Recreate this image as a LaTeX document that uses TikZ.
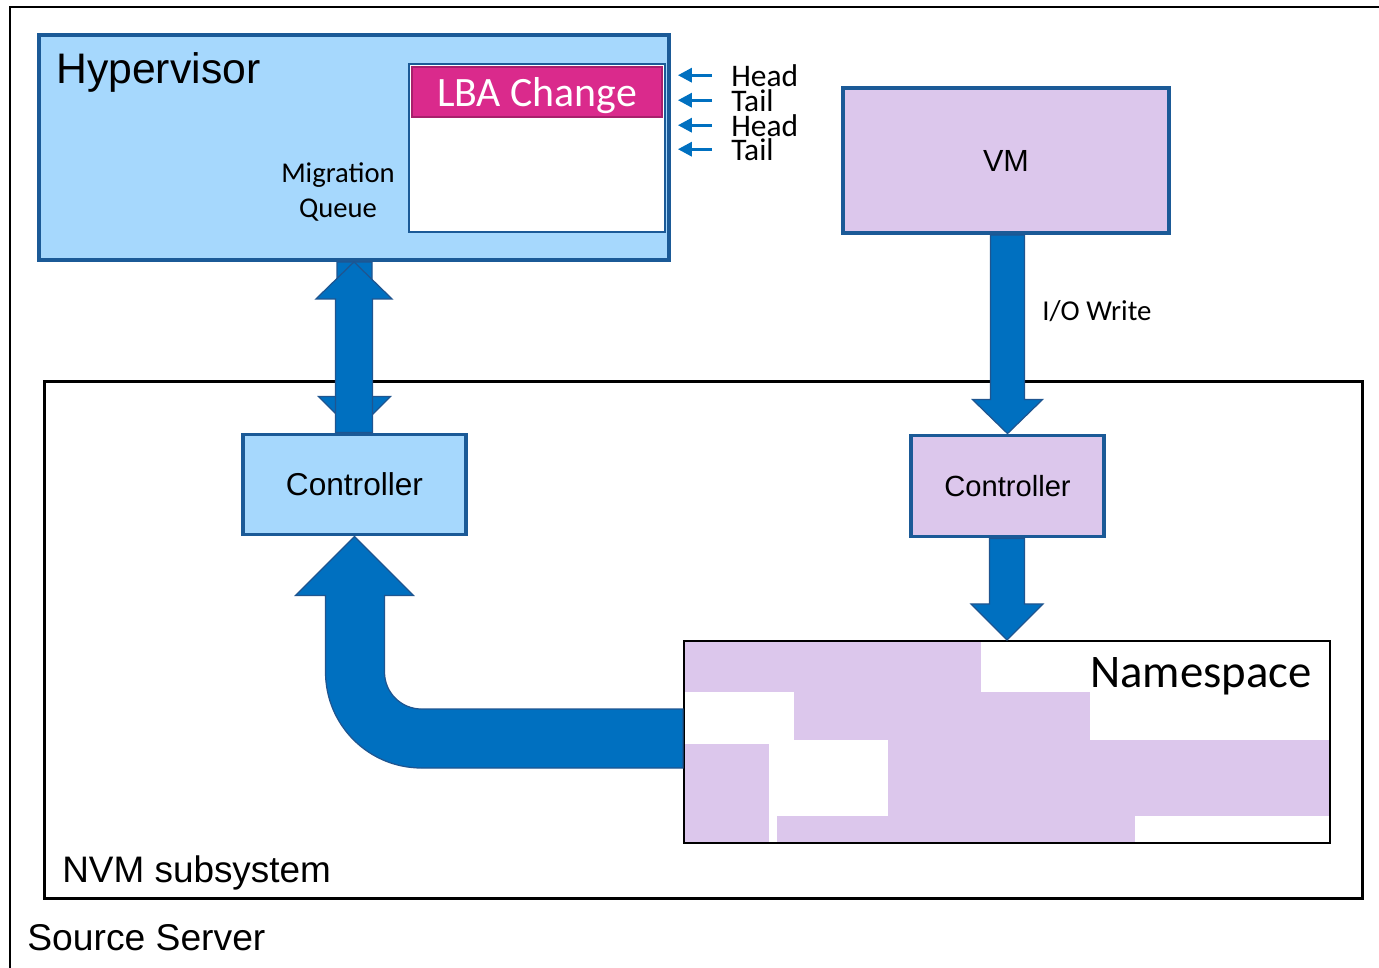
\documentclass[tikz,border=0pt]{standalone}
\usepackage{fontspec}
\setmainfont{Liberation Sans}
\newfontfamily\calibri{Carlito}
\usetikzlibrary{calc, arrows.meta}
\definecolor{HyperBlue}{HTML}{A6D8FD}
\definecolor{EdgeBlue}{HTML}{1B5A97}
\definecolor{VmLilac}{HTML}{DCC7EC}
\definecolor{QueuePink}{HTML}{DA2A8C}
\definecolor{QueueEdge}{HTML}{A8206C}
\definecolor{FlowBlue}{HTML}{0070C0}
\definecolor{FlowEdge}{HTML}{1F5590}

% vertical block arrow: from, tip, shaft half width, head half width, head length (signed)
\newcommand{\vflow}[5]{%
  \filldraw[flow] let \p1=(#1), \p2=(#2) in
    ({\x2-#3},\y1) -- ({\x2-#3},{\y2+#5}) -- ({\x2-#4},{\y2+#5}) -- (\x2,\y2)
    -- ({\x2+#4},{\y2+#5}) -- ({\x2+#3},{\y2+#5}) -- ({\x2+#3},\y1) -- cycle;}

\begin{document}
\begin{tikzpicture}[x=0.02cm, y=-0.02cm,
    box/.style={draw=EdgeBlue, line width=2.2pt, inner sep=0pt},
    frame/.style={draw=black, line width=1.4pt},
    flow/.style={fill=FlowBlue, draw=FlowEdge, line width=0.7pt},
    tinyflow/.style={draw=FlowBlue, line width=1.8pt, -{Triangle[length=8pt, width=8pt]}},
    lbl/.style={inner sep=0pt},
    tagfont/.style={font=\calibri\fontsize{17.9}{21}\selectfont}]
    \useasboundingbox (0,0) rectangle (1379,967);

    % Source server
    \draw[frame] (10,975) -- (10,7) -- (1385,7);
    \node[lbl, anchor=base west, font=\fontsize{21.2}{25}\selectfont] (srvtitle) at (27,950) {Source Server};

    % Hypervisor
    \node[box, fill=HyperBlue, minimum width=12.6cm, minimum height=4.5cm] (hyp) at (354,147.5) {};
    \node[lbl, anchor=base west, font=\fontsize{24.3}{28}\selectfont] (hyptitle) at (56,83) {Hypervisor};

    % Migration queue
    \node[draw=EdgeBlue, line width=1.4pt, fill=white, minimum width=5.12cm, minimum height=3.36cm, inner sep=0pt] (queue) at (537,148) {};
    \node[draw=QueueEdge, line width=1.2pt, fill=QueuePink, text=white, minimum width=5.0cm, minimum height=1.0cm, inner sep=0pt, text depth=0pt, anchor=north, font=\calibri\fontsize{23.8}{28}\selectfont] (lba) at ([yshift=-0.06cm]queue.north) {LBA Change};
    \node[lbl, align=center, font=\calibri\fontsize{16.3}{19.5}\selectfont] (mqtext) at (338,192) {Migration\\Queue};

    % Head / Tail pointers
    \node[lbl, anchor=base west, tagfont] (head1) at (731,86) {Head};
    \node[lbl, anchor=base west, tagfont] (tail1) at (731,111) {Tail};
    \node[lbl, anchor=base west, tagfont] (head2) at (731,136) {Head};
    \node[lbl, anchor=base west, tagfont] (tail2) at (731,160) {Tail};
    \foreach \t in {head1,tail1,head2,tail2}
        \draw[tinyflow] ([xshift=-0.38cm]\t.west) -- ([xshift=0.14cm]hyp.east |- \t.west);

    % VM
    \node[box, fill=VmLilac, minimum width=6.52cm, minimum height=2.9cm, font=\fontsize{17.4}{21}\selectfont] (vm) at (1006,160.5) {VM};

    % NVM subsystem
    \node[frame, minimum width=26.36cm, minimum height=10.34cm, inner sep=0pt] (nvm) at (703.5,640) {};
    \node[lbl, anchor=base west, font=\fontsize{21}{25}\selectfont] (nvmtitle) at (62,882) {NVM subsystem};

    % Controllers
    \node[box, fill=HyperBlue, minimum width=4.46cm, minimum height=2.0cm, font=\fontsize{18}{22}\selectfont] (ctrlL) at (354.5,484.5) {Controller};
    \node[box, fill=VmLilac, minimum width=3.86cm, minimum height=2.02cm, font=\fontsize{16.6}{20}\selectfont] (ctrlR) at (1007.5,486) {Controller};

    % Namespace
    \fill[VmLilac] (684,641) rectangle (981,692);
    \fill[VmLilac] (794,692) rectangle (1090,740);
    \fill[VmLilac] (888,740) rectangle (1330,816);
    \fill[VmLilac] (684,744) rectangle (769,843);
    \fill[VmLilac] (777,816) rectangle (1135,843);
    \node[draw=black, line width=1.2pt, minimum width=12.92cm, minimum height=4.04cm, inner sep=0pt] (ns) at (1007,742) {};
    \node[lbl, anchor=base east, font=\calibri\fontsize{26.6}{30}\selectfont] (nstitle) at (1312,687) {Namespace};

    % Flows
    \vflow{vm.south}{ctrlR.north}{0.34cm}{0.70cm}{0.68cm}
    \node[lbl, anchor=base west, font=\calibri\fontsize{16.4}{20}\selectfont] (iolabel) at (1042,320) {I/O Write};
    \vflow{ctrlR.south}{ns.north}{0.35cm}{0.72cm}{0.72cm}
    \vflow{hyp.south}{ctrlL.north}{0.35cm}{0.72cm}{0.72cm}
    \vflow{ctrlL.north}{hyp.south}{0.37cm}{0.76cm}{-0.74cm}
    \filldraw[flow] let \p1=(ns.west), \p2=(ctrlL.south) in
        (\x1,{\y1+0.66cm}) -- ({\x2+1.34cm},{\y1+0.66cm})
        arc[start angle=270, end angle=180, radius=0.74cm]
        -- ({\x2+0.6cm},{\y2-1.18cm}) -- ({\x2+1.18cm},{\y2-1.18cm}) -- (\x2,\y2)
        -- ({\x2-1.18cm},{\y2-1.18cm}) -- ({\x2-0.58cm},{\y2-1.18cm})
        -- ({\x2-0.58cm},{\y1+1.4cm})
        arc[start angle=180, end angle=270, radius=1.92cm]
        -- (\x1,{\y1-0.52cm}) -- cycle;
\end{tikzpicture}
\end{document}
